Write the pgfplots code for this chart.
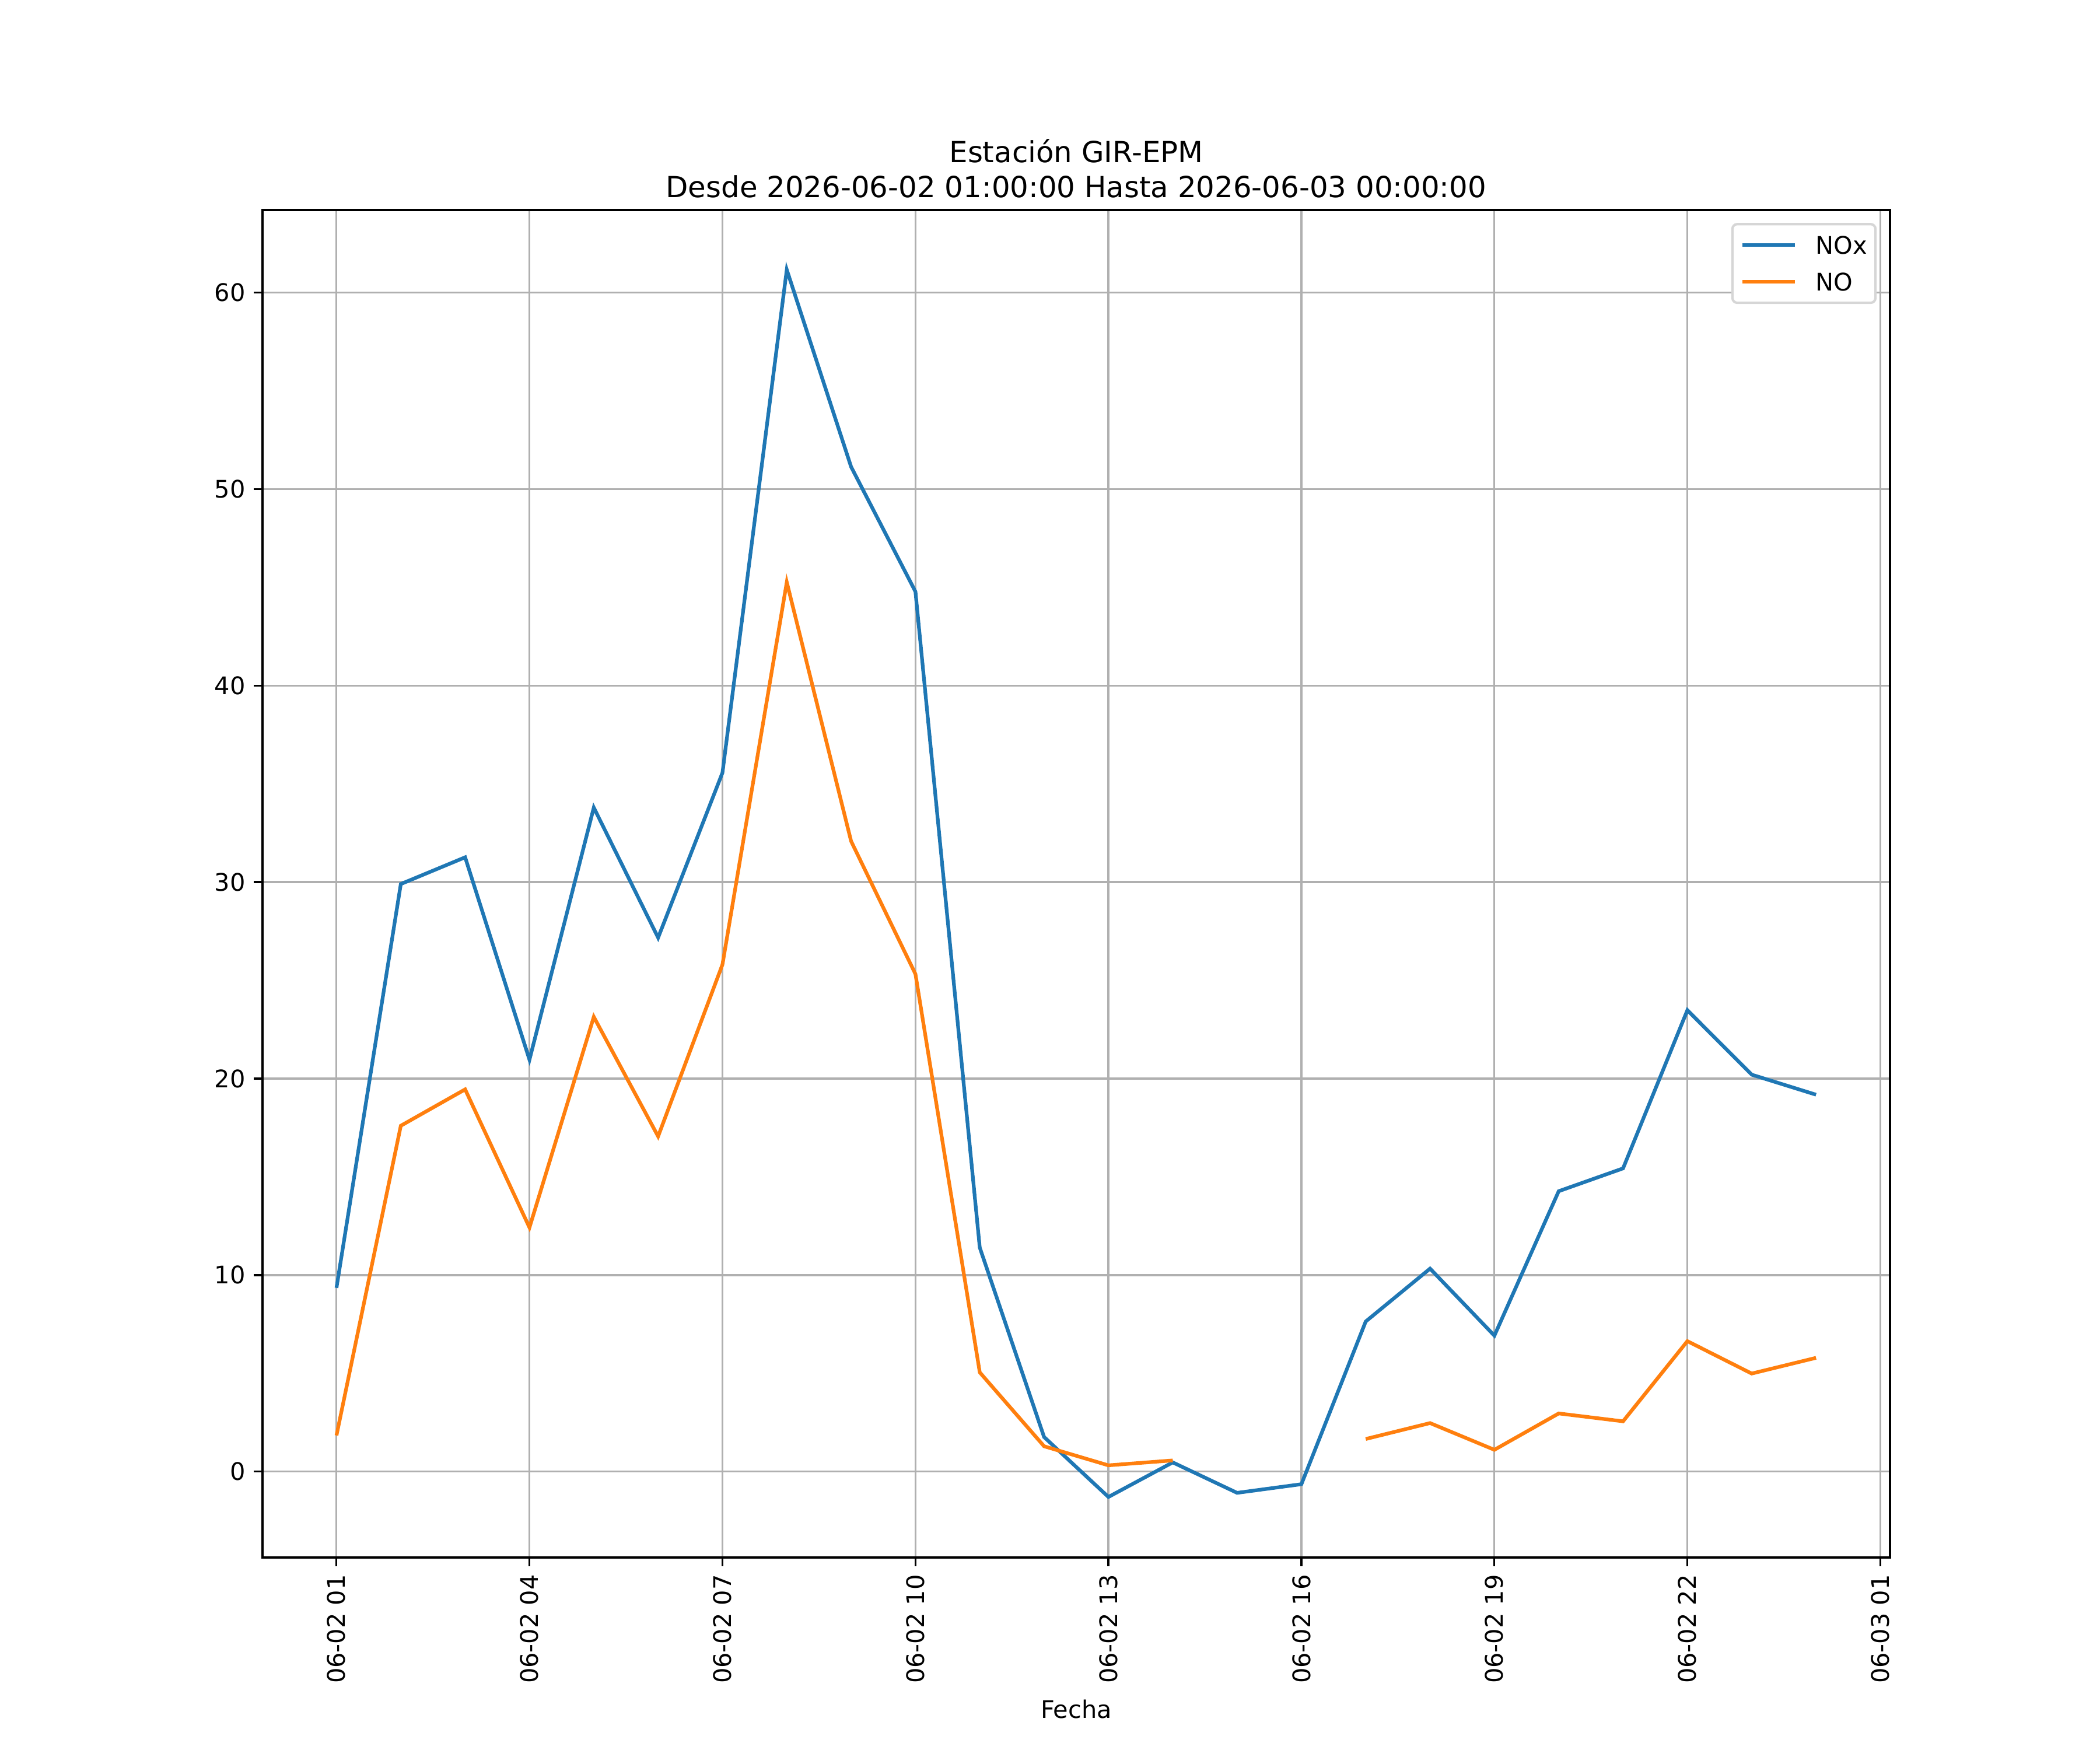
\documentclass[border=0pt]{standalone}
\usepackage{pgfplots}
\pgfplotsset{compat=1.18}
\usepackage{fontspec}
\setmainfont{DejaVu Sans}
\definecolor{mplblue}{HTML}{1F77B4}
\definecolor{mplorange}{HTML}{FF7F0E}
\definecolor{gridgray}{HTML}{B0B0B0}
\definecolor{leggray}{HTML}{D6D6D6}
\begin{document}
\begin{tikzpicture}
\path (0,0) rectangle (12in,10in);
\begin{axis}[
  at={(1.5in,1.1in)}, anchor=south west,
  scale only axis, width=9.3in, height=7.7in,
  xmin=-0.15, xmax=25.15, ymin=-4.37, ymax=64.2,
  xtick={1,4,7,10,13,16,19,22,25},
  xticklabels={06-02 01,06-02 04,06-02 07,06-02 10,06-02 13,06-02 16,06-02 19,06-02 22,06-03 01},
  x tick label style={rotate=90, anchor=east},
  ytick={0,10,20,30,40,50,60},
  xtick pos=left, ytick pos=left,
  tick align=outside, major tick length=3.5pt,
  every tick/.style={black, line width=0.8pt},
  axis line style={line width=0.8pt},
  grid=major, major grid style={gridgray, line width=0.8pt},
  tick label style={font=\fontsize{10}{12}\selectfont},
  /pgf/number format/assume math mode=true,
  xlabel={Fecha}, xlabel style={font=\fontsize{10}{12}\selectfont},
  title={Estación GIR-EPM\\Desde 2026-06-02 01:00:00 Hasta 2026-06-03 00:00:00},
  title style={font=\fontsize{12}{14.4}\selectfont, align=center, yshift=-4.5pt},
  unbounded coords=jump,
  legend style={font=\fontsize{10}{12}\selectfont, draw=leggray, line width=1pt, rounded corners=2pt,
    at={(0.9918,0.9904)}, anchor=north east,
    row sep=7.9pt, column sep=0pt, inner xsep=3.4pt, inner ysep=5pt,
    nodes={inner sep=0pt, text height=7.3pt, text depth=0pt}},
  legend cell align=left,
  legend image code/.code={\draw[#1, line width=1.5pt] (0pt,0pt) -- (21.6pt,0pt); \path (29.5pt,0pt);},
]
\addplot[mplblue, line width=1.5pt] coordinates {
(1,9.35) (2,29.9) (3,31.26) (4,20.96) (5,33.79) (6,27.17) (7,35.56) (8,61.16)
(9,51.13) (10,44.78) (11,11.4) (12,1.76) (13,-1.29) (14,0.47) (15,-1.08) (16,-0.64)
(17,7.64) (18,10.33) (19,6.92) (20,14.27) (21,15.43) (22,23.48) (23,20.2) (24,19.18)
};
\addlegendentry{NOx\hspace{1.4pt}}
\addplot[mplorange, line width=1.5pt] coordinates {
(1,1.84) (2,17.6) (3,19.45) (4,12.42) (5,23.14) (6,17.06) (7,25.8) (8,45.26)
(9,32.08) (10,25.32) (11,5.05) (12,1.29) (13,0.32) (14,0.57) (15,nan) (16,nan)
(17,1.66) (18,2.47) (19,1.11) (20,2.96) (21,2.56) (22,6.64) (23,4.99) (24,5.79)
};
\addlegendentry{NO}
\end{axis}
\end{tikzpicture}
\end{document}
